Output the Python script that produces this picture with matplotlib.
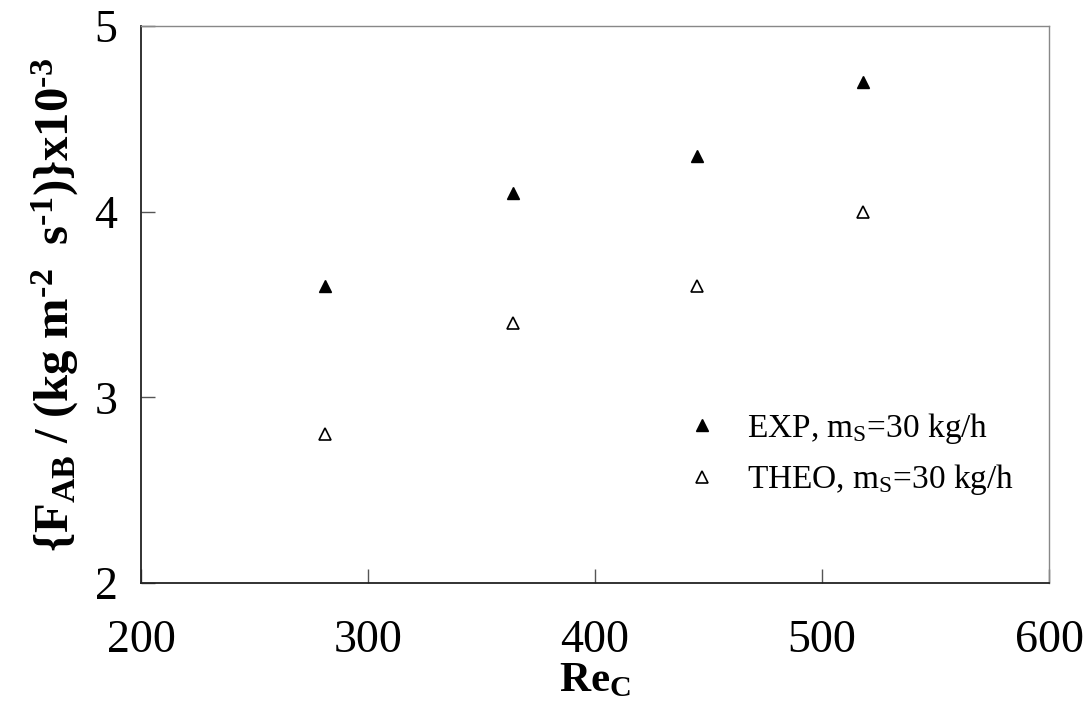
import matplotlib
matplotlib.use('Agg')
import matplotlib.pyplot as plt

plt.rcParams['font.family'] = 'Liberation Serif'
plt.rcParams['mathtext.fontset'] = 'custom'
plt.rcParams['mathtext.rm'] = 'Liberation Serif'
plt.rcParams['mathtext.it'] = 'Liberation Serif:italic'
plt.rcParams['mathtext.bf'] = 'Liberation Serif:bold'

re_c = [281, 364, 445, 518]
f_exp = [3.6, 4.1, 4.3, 4.7]
f_theo = [2.8, 3.4, 3.6, 4.0]

exp_label = r'EXP, m$_\mathrm{S}$=30 kg/h'
theo_label = r'THEO, m$_\mathrm{S}$=30 kg/h'

fig = plt.figure(figsize=(10.9, 7.07), dpi=100)
ax = fig.add_axes([0.1294, 0.1754, 0.8330, 0.7878])

ax.plot(re_c, f_exp, linestyle='none', marker='^', ms=9, color='black', label=exp_label)
ax.plot(re_c, f_theo, linestyle='none', marker='^', ms=8, mfc='white', mec='black',
        mew=1.2, label=theo_label)

ax.set_xlim(200, 600)
ax.set_ylim(2, 5)
ax.set_xticks([200, 300, 400, 500, 600])
ax.set_yticks([2, 3, 4, 5])
ax.tick_params(direction='in', length=10, width=1, labelsize=33, color='#555555')
ax.tick_params(axis='x', pad=26)
ax.tick_params(axis='y', pad=17)

for side in ['left', 'bottom']:
    ax.spines[side].set_linewidth(1.3)
    ax.spines[side].set_color('#222222')
for side in ['top', 'right']:
    ax.spines[side].set_linewidth(1.0)
    ax.spines[side].set_color('#888888')

ax.set_xlabel(r'$\mathbf{Re_C}$', fontsize=31, labelpad=0)
ax.set_ylabel('$\\mathbf{\\{F_{AB}\\ /\\ (kg\\ m^{\u2010 2}\\ \\ s^{\u2010 1})\\}x10^{\u2010 3}}$',
              fontsize=35, labelpad=10)

ax.legend(loc='lower right', bbox_to_anchor=(0.995, 0.1), frameon=False, fontsize=24,
          handlelength=1.0, handletextpad=0.85, labelspacing=0.5, markerscale=1.0)

plt.savefig('out.png', dpi=100)
